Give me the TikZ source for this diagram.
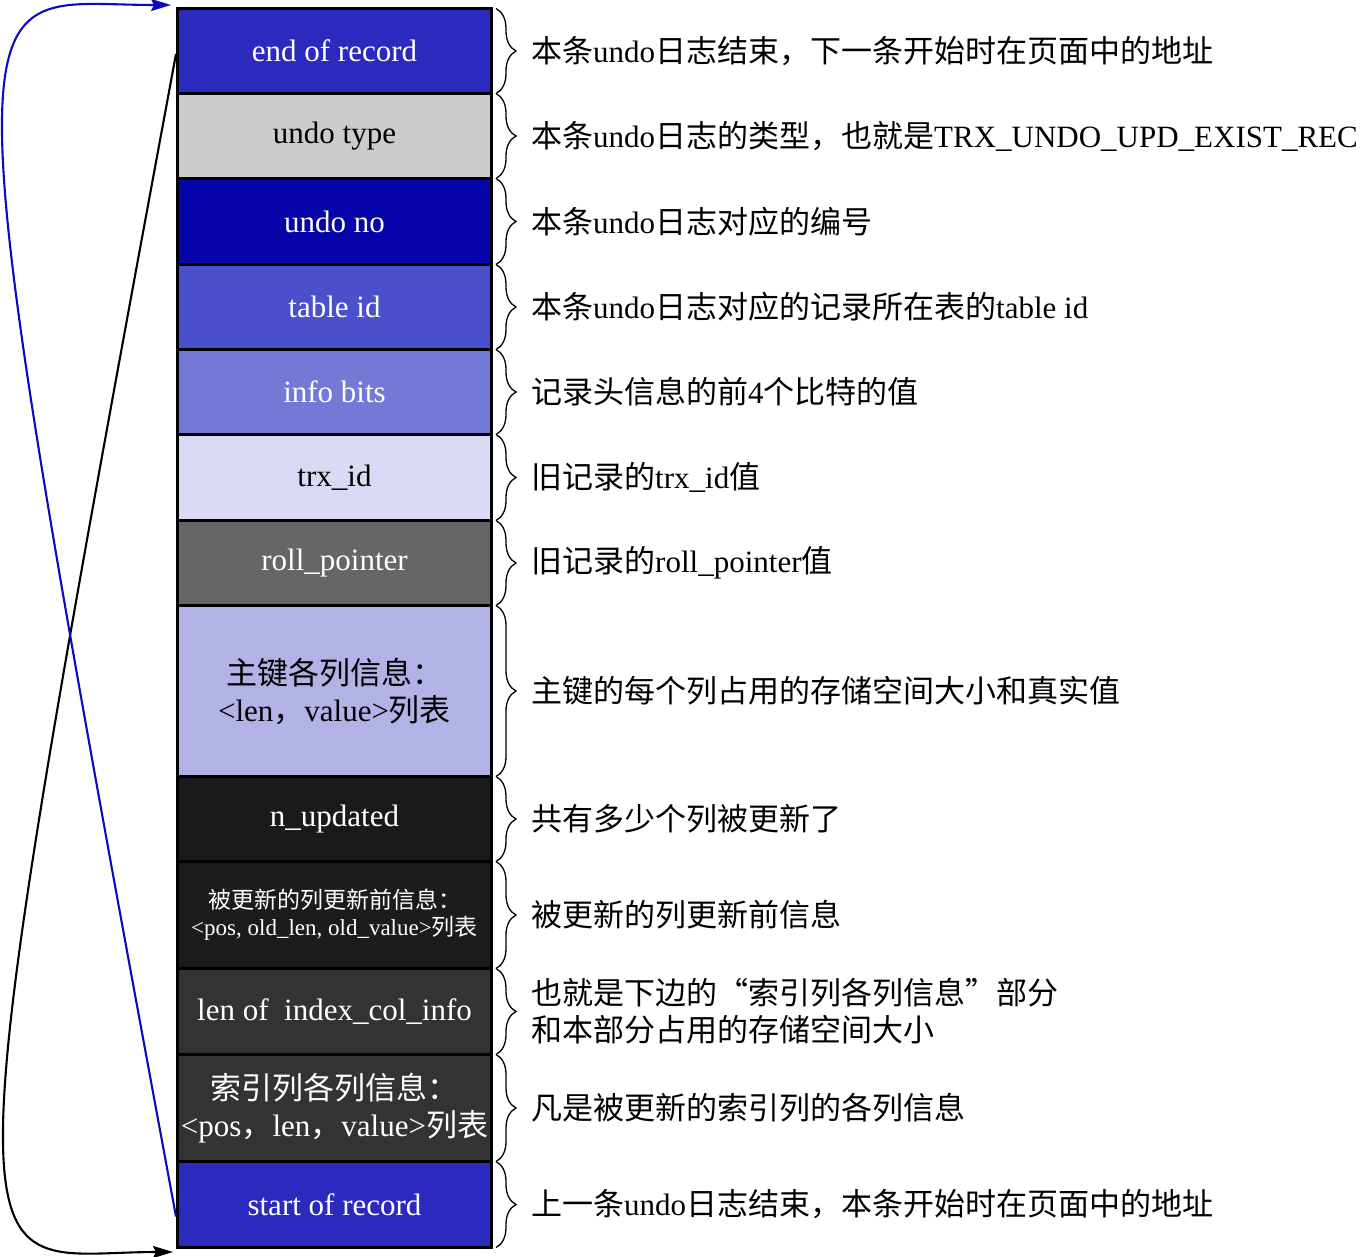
\documentclass[tikz,border=0pt]{standalone}
\usepackage{fontspec}
\setmainfont{Liberation Serif}
\newfontfamily\cjk{Noto Sans CJK SC}
\newcommand\zh[1]{{\cjk #1}}
\usetikzlibrary{decorations.pathreplacing,arrows.meta}
\definecolor{cEnd}{HTML}{2A2ABE}
\definecolor{cType}{HTML}{CCCCCC}
\definecolor{cNo}{HTML}{0505AA}
\definecolor{cTid}{HTML}{4A4FCB}
\definecolor{cBits}{HTML}{7579D6}
\definecolor{cTrx}{HTML}{DADAF5}
\definecolor{cRoll}{HTML}{666666}
\definecolor{cPk}{HTML}{B2B2E6}
\definecolor{cUpd}{HTML}{1A1A1A}
\definecolor{cOld}{HTML}{1C1C1C}
\definecolor{cIdx}{HTML}{333333}
\definecolor{cArrow}{HTML}{0A0AC0}
\tikzset{
  rowbox/.style={draw=black, line width=3pt, minimum width=314pt, inner sep=0pt,
    anchor=north west, align=center, font=\fontsize{31}{37}\selectfont},
  rlabel/.style={anchor=west, inner sep=0pt, align=left, font=\fontsize{31}{37}\selectfont},
  bracedeco/.style={decorate, decoration={brace, amplitude=20pt}, line width=1.3pt},
  linkarrow/.style={line width=2.1pt, -{Stealth[length=20pt, width=12pt, inset=3pt]}}
}
\begin{document}
\begin{tikzpicture}[x=1pt, y=-1pt]
\useasboundingbox (0,0) rectangle (1363,1256);
\node[rowbox, fill=cEnd, text=white, minimum height=85pt] (eor) at (176,7) {end of record};
\node[rowbox, fill=cType, text=black, minimum height=85pt] (utype) at (176,92) {undo type};
\node[rowbox, fill=cNo, text=white, minimum height=86pt] (uno) at (176,177) {undo no};
\node[rowbox, fill=cTid, text=white, minimum height=85pt] (tid) at (176,263) {table id};
\node[rowbox, fill=cBits, text=white, minimum height=85pt] (ibits) at (176,348) {info bits};
\node[rowbox, fill=cTrx, text=black, minimum height=86pt] (trx) at (176,433) {trx\_id};
\node[rowbox, fill=cRoll, text=white, minimum height=85pt] (roll) at (176,519) {roll\_pointer};
\node[rowbox, fill=cPk, text=black, minimum height=171pt] (pk) at (176,604) {\zh{主键各列信息：}\\<len\zh{，}value>\zh{列表}};
\node[rowbox, fill=cUpd, text=white, minimum height=85pt] (nupd) at (176,775) {n\_updated};
\node[rowbox, fill=cOld, text=white, minimum height=107pt, font=\fontsize{23}{27}\selectfont] (old) at (176,860) {\zh{被更新的列更新前信息：}\\<pos, old\_len, old\_value>\zh{列表}};
\node[rowbox, fill=cIdx, text=white, minimum height=86pt] (lenidx) at (176,967) {len of~ index\_col\_info};
\node[rowbox, fill=cIdx, text=white, minimum height=107pt] (idx) at (176,1053) {\zh{索引列各列信息：}\\<pos\zh{，}len\zh{，}value>\zh{列表}};
\node[rowbox, fill=cEnd, text=white, minimum height=86pt] (sor) at (176,1160) {start of record};

\foreach \r in {eor,utype,uno,tid,ibits,trx,roll,pk,nupd,old,lenidx,idx,sor}{
  \draw[bracedeco] ([xshift=3pt,yshift=-1.5pt]\r.north east) -- ([xshift=3pt,yshift=1.5pt]\r.south east);
}

\node[rlabel] (t1) at ([xshift=38pt]eor.east) {\zh{本条}undo\zh{日志结束，下一条开始时在页面中的地址}};
\node[rlabel] (t2) at ([xshift=38pt]utype.east) {\zh{本条}undo\zh{日志的类型，也就是}TRX\_UNDO\_UPD\_EXIST\_REC};
\node[rlabel] (t3) at ([xshift=38pt]uno.east) {\zh{本条}undo\zh{日志对应的编号}};
\node[rlabel] (t4) at ([xshift=38pt]tid.east) {\zh{本条}undo\zh{日志对应的记录所在表的}table id};
\node[rlabel] (t5) at ([xshift=38pt]ibits.east) {\zh{记录头信息的前}4\zh{个比特的值}};
\node[rlabel] (t6) at ([xshift=38pt]trx.east) {\zh{旧记录的}trx\_id\zh{值}};
\node[rlabel] (t7) at ([xshift=38pt]roll.east) {\zh{旧记录的}roll\_pointer\zh{值}};
\node[rlabel] (t8) at ([xshift=38pt]pk.east) {\zh{主键的每个列占用的存储空间大小和真实值}};
\node[rlabel] (t9) at ([xshift=38pt]nupd.east) {\zh{共有多少个列被更新了}};
\node[rlabel] (t10) at ([xshift=38pt]old.east) {\zh{被更新的列更新前信息}};
\node[rlabel] (t11) at ([xshift=38pt]lenidx.east) {\zh{也就是下边的“索引列各列信息”部分}\\\zh{和本部分占用的存储空间大小}};
\node[rlabel] (t12) at ([xshift=38pt]idx.east) {\zh{凡是被更新的索引列的各列信息}};
\node[rlabel] (t13) at ([xshift=38pt]sor.east) {\zh{上一条}undo\zh{日志结束，本条开始时在页面中的地址}};

\draw[linkarrow, black] ([yshift=-3pt]eor.west) .. controls +(-240,1295) and +(-212,0) .. ([xshift=-3pt,yshift=-3pt]sor.south west);
\draw[linkarrow, cArrow] ([yshift=-12pt]sor.west) .. controls +(-240,-1295) and +(-212,0) .. ([xshift=-5pt,yshift=2pt]eor.north west);
\end{tikzpicture}
\end{document}
